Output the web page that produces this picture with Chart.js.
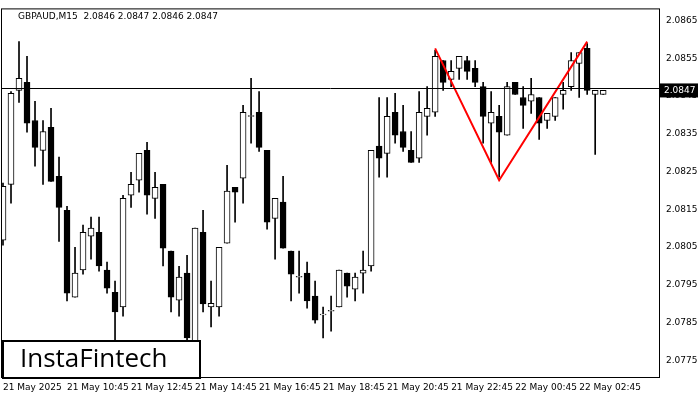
<!DOCTYPE html>
<html><head><meta charset="utf-8">
<script src="https://cdn.jsdelivr.net/npm/chart.js@4.4.1/dist/chart.umd.min.js"></script>
<style>html,body{margin:0;padding:0;background:#fff}#w{width:700px;height:400px}</style>
</head><body><div id="w"><canvas id="c"></canvas></div>
<script>
const opens=[2.08068,2.08216,2.08465,2.08486,2.08385,2.08306,2.08367,2.08237,2.08147,2.07917,2.07989,2.08079,2.08089,2.07989,2.07930,2.07891,2.08187,2.08227,2.08306,2.08179,2.08216,2.08039,2.07909,2.07981,2.07798,2.08089,2.07891,2.07891,2.08060,2.08208,2.08232,2.08396,2.08407,2.08306,2.08126,2.08169,2.08039,2.07970,2.07981,2.07920,2.07870,2.07880,2.07891,2.07981,2.07938,2.07981,2.08000,2.08317,2.08298,2.08407,2.08356,2.08306,2.08285,2.08396,2.08407,2.08544,2.08494,2.08523,2.08544,2.08523,2.08475,2.08378,2.08396,2.08346,2.08486,2.08446,2.08436,2.08446,2.08385,2.08396,2.08454,2.08475,2.08536,2.08576,2.08454,2.08454];
const closes=[2.08211,2.08457,2.08497,2.08378,2.08314,2.08356,2.08224,2.08155,2.07928,2.07981,2.08089,2.08100,2.08000,2.07941,2.07878,2.08179,2.08216,2.08298,2.08187,2.08208,2.08047,2.07917,2.07970,2.07809,2.08100,2.07899,2.07901,2.08049,2.08198,2.08195,2.08407,2.08398,2.08314,2.08116,2.08179,2.08047,2.07978,2.07972,2.07907,2.07856,2.07872,2.07882,2.07989,2.07946,2.07970,2.07989,2.08306,2.08285,2.08396,2.08346,2.08314,2.08274,2.08407,2.08417,2.08555,2.08486,2.08515,2.08555,2.08515,2.08486,2.08396,2.08407,2.08354,2.08475,2.08454,2.08425,2.08454,2.08378,2.08404,2.08446,2.08465,2.08544,2.08565,2.08465,2.08465,2.08465];
const highs=[2.08219,2.08462,2.08594,2.08555,2.08436,2.08385,2.08417,2.08288,2.08158,2.08049,2.08108,2.08129,2.08129,2.08010,2.07960,2.08187,2.08248,2.08298,2.08327,2.08248,2.08216,2.08039,2.07999,2.08028,2.08100,2.08147,2.07960,2.08049,2.08266,2.08208,2.08425,2.08497,2.08462,2.08306,2.08179,2.08237,2.08039,2.08039,2.08010,2.07960,2.07891,2.07920,2.07989,2.07981,2.07981,2.08039,2.08306,2.08446,2.08446,2.08457,2.08425,2.08356,2.08462,2.08475,2.08571,2.08544,2.08544,2.08555,2.08555,2.08544,2.08486,2.08462,2.08425,2.08486,2.08486,2.08475,2.08497,2.08446,2.08404,2.08446,2.08486,2.08565,2.08565,2.08589,2.08465,2.08465];
const lows=[2.08055,2.08166,2.08433,2.08354,2.08264,2.08216,2.08224,2.08065,2.07907,2.07917,2.07978,2.08018,2.07986,2.07928,2.07803,2.07867,2.08155,2.08195,2.08137,2.08126,2.08000,2.07878,2.07867,2.07803,2.07790,2.07878,2.07838,2.07867,2.08060,2.08116,2.08166,2.08325,2.08303,2.08097,2.08018,2.08047,2.07907,2.07928,2.07888,2.07848,2.07809,2.07827,2.07891,2.07917,2.07907,2.07928,2.07986,2.08235,2.08235,2.08325,2.08303,2.08274,2.08274,2.08346,2.08396,2.08465,2.08475,2.08494,2.08494,2.08475,2.08325,2.08274,2.08235,2.08346,2.08454,2.08364,2.08404,2.08335,2.08364,2.08385,2.08415,2.08465,2.08446,2.08454,2.08295,2.08454];
const timeLabels=["21 May 2025","21 May 10:45","21 May 12:45","21 May 14:45","21 May 16:45","21 May 18:45","21 May 20:45","21 May 22:45","22 May 00:45","22 May 02:45"];
const priceTicks=[2.0865,2.0855,2.0845,2.0835,2.0825,2.0815,2.0805,2.0795,2.0785,2.0775];
const patternIdx=[54,62,73];
const patternVals=[2.08576,2.08227,2.08594];
const lastPrice=2.0847;
const title="GBPAUD,M15  2.0846 2.0847 2.0846 2.0847";

const wicks=lows.map((l,i)=>({x:i,y:[l,highs[i]]}));
const bodies=opens.map((o,i)=>({x:i,y:[o,closes[i]]}));
const bodyColors=opens.map((o,i)=>closes[i]>=o?'#ffffff':'#000000');
const FONT='"DejaVu Sans", sans-serif';

const deco={id:'deco',
 afterDatasetsDraw(ch){
  const {ctx,chartArea:a,scales:{y}}=ch;
  const py=Math.round(y.getPixelForValue(lastPrice))+0.5;
  ctx.save();
  ctx.strokeStyle='#000';ctx.lineWidth=1;
  ctx.beginPath();ctx.moveTo(a.left,py);ctx.lineTo(a.right,py);ctx.stroke();
  ctx.restore();
 },
 afterDraw(ch){
  const {ctx,chartArea:a,scales:{y}}=ch;
  ctx.save();
  ctx.strokeStyle='#000';ctx.lineWidth=1;
  ctx.strokeRect(a.left+0.5,a.top+0.5,a.right-a.left-1,a.bottom-a.top-1);
  const py=y.getPixelForValue(lastPrice);
  ctx.fillStyle='#000';ctx.fillRect(a.right,py-5,38,14);
  ctx.fillStyle='#fff';ctx.font='9px '+FONT;ctx.textBaseline='middle';ctx.textAlign='left';
  ctx.fillText(lastPrice.toFixed(4),a.right+4,py+2);
  ctx.fillStyle='#000';ctx.textBaseline='top';
  ctx.fillText(title,a.left+17,a.top+4);
  ctx.fillStyle='#fff';ctx.fillRect(2,340,198,38);
  ctx.lineWidth=2;ctx.strokeRect(3,341,197,37);
  ctx.fillStyle='#000';ctx.font='500 26px "Open Sans", sans-serif';ctx.textBaseline='middle';
  ctx.fillText('InstaFintech',20,360);
  ctx.restore();
 }};

new Chart(document.getElementById('c'),{
 type:'bar',
 data:{datasets:[
  {type:'line',data:patternIdx.map((x,i)=>({x,y:patternVals[i]})),borderColor:'#ff0000',borderWidth:2,pointRadius:0,order:0},
  {data:bodies,backgroundColor:bodyColors,borderColor:'#000',borderWidth:1,barThickness:6,grouped:false,order:1,borderSkipped:false},
  {data:wicks,backgroundColor:'#000',borderWidth:0,barThickness:1,grouped:false,order:2}
 ]},
 options:{animation:false,responsive:true,maintainAspectRatio:false,
  layout:{padding:{top:8,left:1,right:0,bottom:0}},
  plugins:{legend:{display:false},tooltip:{enabled:false}},
  scales:{
   x:{type:'linear',min:-0.25,max:82.1,offset:false,
    grid:{display:false,drawTicks:true,tickLength:3,color:'#000'},border:{display:false},
    afterBuildTicks(s){s.ticks=timeLabels.map((_,i)=>({value:i*8}));},
    ticks:{autoSkip:false,maxRotation:0,align:'start',padding:1,color:'#000',font:{size:9,family:FONT},
     callback:(v)=>timeLabels[Math.round(v/8)]},
    afterFit(s){s.height=22;}},
   y:{position:'right',min:2.07703,max:2.08682,
    grid:{display:false,drawTicks:true,tickLength:3,color:'#000'},border:{display:false},
    afterBuildTicks(s){s.ticks=priceTicks.map(v=>({value:v}));},
    ticks:{autoSkip:false,padding:3,color:'#000',font:{size:9,family:FONT},callback:v=>v.toFixed(4)},
    afterFit(s){s.width=40;}}
  }},
 plugins:[deco]});
</script></body></html>
